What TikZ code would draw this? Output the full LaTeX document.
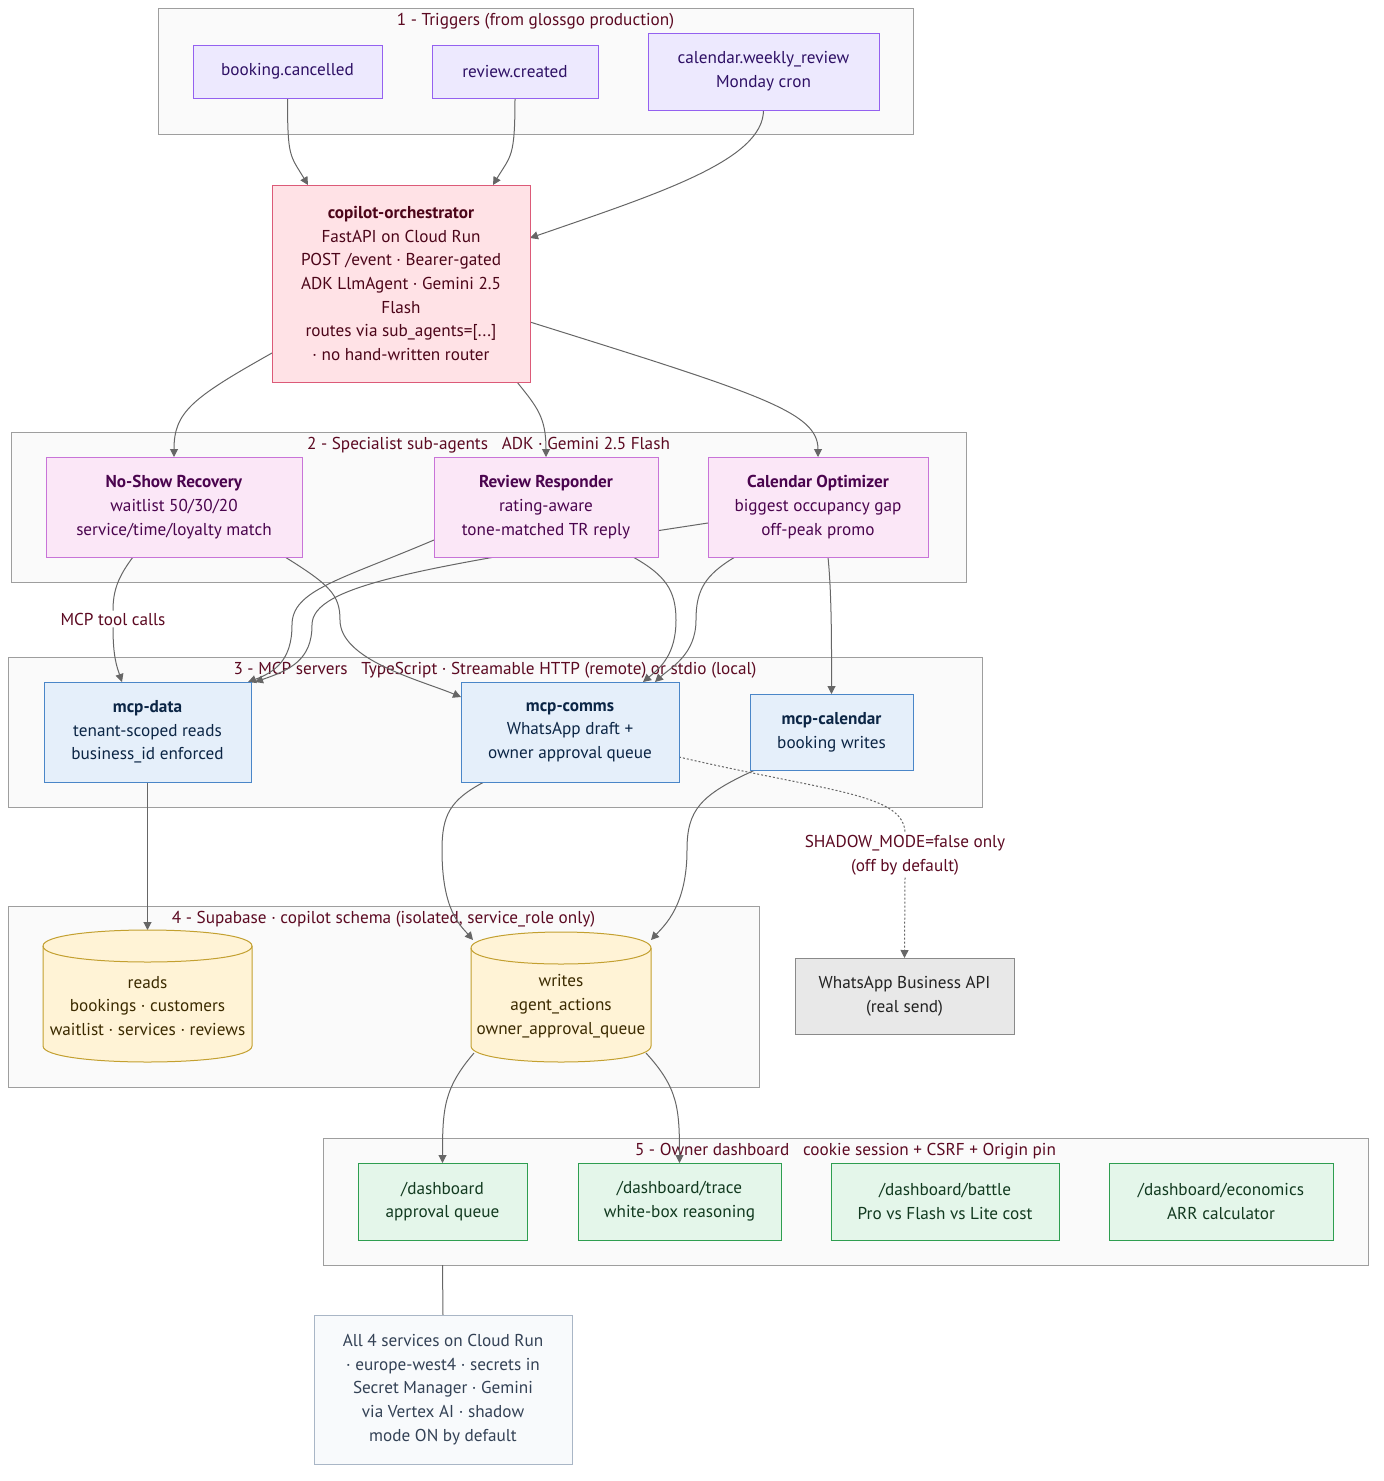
\documentclass[tikz,border=0pt]{standalone}
\usepackage{fontspec}
\setmainfont{PT Sans}
\usepackage{xcolor}
\definecolor{trigfill}{HTML}{EDE9FE}
\definecolor{trigline}{HTML}{9461F0}
\definecolor{trigtext}{HTML}{2E1065}
\definecolor{orchfill}{HTML}{FFE2E6}
\definecolor{orchline}{HTML}{DC5A78}
\definecolor{orchtext}{HTML}{4C0519}
\definecolor{agentfill}{HTML}{FBE7F7}
\definecolor{agentline}{HTML}{C874D8}
\definecolor{agenttext}{HTML}{4A044E}
\definecolor{mcpfill}{HTML}{E5EFFA}
\definecolor{mcpline}{HTML}{4A86C8}
\definecolor{mcptext}{HTML}{0B2545}
\definecolor{dbfill}{HTML}{FFF3D6}
\definecolor{dbline}{HTML}{C3A030}
\definecolor{dbtext}{HTML}{3B2A00}
\definecolor{extfill}{HTML}{E8E8E8}
\definecolor{extline}{HTML}{8A8A8A}
\definecolor{exttext}{HTML}{222222}
\definecolor{pagefill}{HTML}{E4F6EA}
\definecolor{pageline}{HTML}{2E9E50}
\definecolor{pagetext}{HTML}{123A20}
\definecolor{notefill}{HTML}{F8FAFC}
\definecolor{noteline}{HTML}{A9B6C6}
\definecolor{notetext}{HTML}{334155}
\definecolor{clusterfill}{HTML}{FAFAFA}
\definecolor{clusterline}{HTML}{9E9E9E}
\definecolor{lblcol}{HTML}{5C0A22}
\definecolor{edgecol}{HTML}{666666}
\usepackage{tikz}
\usetikzlibrary{arrows.meta,calc}
\pgfdeclarelayer{boxes}
\pgfdeclarelayer{edges}
\pgfsetlayers{boxes,edges,main}

\begin{document}
\begin{tikzpicture}[x=1pt,y=-1pt,
    txt/.style={font=\fontsize{17.2}{23.7}\selectfont,align=center},
    box/.style={txt,draw,line width=1pt,outer sep=0pt,inner sep=4pt},
    trigger/.style={box,fill=trigfill,draw=trigline,text=trigtext},
    orchbox/.style={box,fill=orchfill,draw=orchline,text=orchtext},
    agent/.style={box,fill=agentfill,draw=agentline,text=agenttext},
    mcp/.style={box,fill=mcpfill,draw=mcpline,text=mcptext},
    dbnode/.style={outer sep=0pt,inner sep=0pt},
    dbshape/.style={fill=dbfill,draw=dbline,line width=1pt},
    dbtxt/.style={txt,text=dbtext},
    extbox/.style={box,fill=extfill,draw=extline,text=exttext},
    pagebox/.style={box,fill=pagefill,draw=pageline,text=pagetext},
    notebox/.style={box,fill=notefill,draw=noteline,text=notetext},
    cluster/.style={draw=clusterline,fill=clusterfill,line width=1pt,outer sep=0pt},
    clabel/.style={txt,text=lblcol,inner sep=1pt},
    elabel/.style={txt,text=lblcol,fill=white,inner sep=2pt},
    edge/.style={draw=edgecol,line width=1pt,-{Triangle[length=8pt,width=8pt]}},
    shadowedge/.style={draw=edgecol,line width=1pt,dash pattern=on 2pt off 2pt}]
  \useasboundingbox (0,0) rectangle (1384,1481);

  % subgraph frames
  \begin{pgfonlayer}{boxes}
    \node[cluster,minimum width=755pt,minimum height=126pt] (one) at (535.5,71) {};
    \node[clabel] at ($(one.north)+(0,13)$) {1 - Triggers (from glossgo production)};
    \node[cluster,minimum width=955pt,minimum height=150pt] (two) at (488.5,507) {};
    \node[clabel] at ($(two.north)+(0,13)$) {2 - Specialist sub-agents \ \ ADK · Gemini 2.5 Flash};
    \node[cluster,minimum width=974pt,minimum height=150pt] (three) at (495,732) {};
    \node[clabel] at ($(three.north)+(0,13)$) {3 - MCP servers \ \ TypeScript · Streamable HTTP (remote) or stdio (local)};
    \node[cluster,minimum width=751pt,minimum height=181pt] (four) at (383.5,996.5) {};
    \node[clabel] at ($(four.north)+(0,13)$) {4 - Supabase · copilot schema (isolated, service\_role only)};
    \node[cluster,minimum width=1045pt,minimum height=127pt] (five) at (845.5,1201.5) {};
    \node[clabel] at ($(five.north)+(0,13)$) {5 - Owner dashboard \ \ cookie session + CSRF + Origin pin};
  \end{pgfonlayer}

  % triggers
  \node[trigger,minimum width=189pt,minimum height=53pt] (cancelled) at (287.5,71.5) {booking.cancelled};
  \node[trigger,minimum width=166pt,minimum height=53pt] (created) at (515,71.5) {review.created};
  \node[trigger,minimum width=231pt,minimum height=77pt] (weekly) at (763.5,71.5) {calendar.weekly\_review\\Monday cron};

  % orchestrator
  \node[orchbox,minimum width=258pt,minimum height=197pt] (orch) at (401,283.5)
    {\textbf{copilot-orchestrator}\\FastAPI on Cloud Run\\POST /event · Bearer-gated\\ADK LlmAgent · Gemini 2.5\\Flash\\routes via sub\_agents=[...]\\ · no hand-written router};

  % sub-agents
  \node[agent,minimum width=256pt,minimum height=100pt] (noshow) at (174,507)
    {\textbf{No-Show Recovery}\\waitlist 50/30/20\\service/time/loyalty match};
  \node[agent,minimum width=224pt,minimum height=100pt] (responder) at (546,507)
    {\textbf{Review Responder}\\rating-aware\\tone-matched TR reply};
  \node[agent,minimum width=220pt,minimum height=100pt] (optimizer) at (818,507)
    {\textbf{Calendar Optimizer}\\biggest occupancy gap\\off-peak promo};

  % MCP servers
  \node[mcp,minimum width=207pt,minimum height=100pt] (mcpdata) at (147.5,732)
    {\textbf{mcp-data}\\tenant-scoped reads\\business\_id enforced};
  \node[mcp,minimum width=218pt,minimum height=100pt] (mcpcomms) at (570,732)
    {\textbf{mcp-comms}\\WhatsApp draft +\\owner approval queue};
  \node[mcp,minimum width=163pt,minimum height=76pt] (mcpcal) at (831.5,732)
    {\textbf{mcp-calendar}\\booking writes};

  % supabase tables
  \node[dbnode,minimum width=209pt,minimum height=132pt] (reads) at (147.5,996) {};
  \node[dbnode,minimum width=180pt,minimum height=130pt] (writes) at (561,997) {};
  \foreach \db in {reads,writes} {
    \path[dbshape] ([yshift=-16pt]\db.north west) -- ([yshift=16pt]\db.south west)
      .. controls ([yshift=-5.33pt]\db.south west) and ([yshift=-5.33pt]\db.south east) .. ([yshift=16pt]\db.south east)
      -- ([yshift=-16pt]\db.north east)
      .. controls ([yshift=5.33pt]\db.north east) and ([yshift=5.33pt]\db.north west) .. cycle;
    \draw[dbshape,fill=none] ([yshift=-16pt]\db.north west)
      .. controls ([yshift=-37.33pt]\db.north west) and ([yshift=-37.33pt]\db.north east) .. ([yshift=-16pt]\db.north east);
  }
  \node[dbtxt] at ([yshift=-10pt]reads.center) {reads\\bookings · customers\\waitlist · services · reviews};
  \node[dbtxt] at ([yshift=-9pt]writes.center) {writes\\agent\_actions\\owner\_approval\_queue};

  \node[extbox,minimum width=219pt,minimum height=76pt] (whatsapp) at (904.5,996) {WhatsApp Business API\\(real send)};

  % dashboard pages
  \node[pagebox,minimum width=169pt,minimum height=77pt] (approval) at (442.5,1201.5) {/dashboard\\approval queue};
  \node[pagebox,minimum width=203pt,minimum height=77pt] (trace) at (679.5,1201.5) {/dashboard/trace\\white-box reasoning};
  \node[pagebox,minimum width=228pt,minimum height=77pt] (battle) at (945,1201.5) {/dashboard/battle\\Pro vs Flash vs Lite cost};
  \node[pagebox,minimum width=224pt,minimum height=77pt] (economics) at (1221,1201.5) {/dashboard/economics\\ARR calculator};

  \node[notebox,minimum width=258pt,minimum height=149pt] (deploy) at (443,1389.5)
    {All 4 services on Cloud Run\\· europe-west4 · secrets in\\Secret Manager · Gemini\\via Vertex AI · shadow\\mode ON by default};

  % edge labels
  \node[elabel] (toolcalls) at (113,619) {MCP tool calls};
  \node[elabel] (shadow) at (905,855.5) {SHADOW\_MODE=false only\\(off by default)};

  % connectors
  \begin{pgfonlayer}{edges}
    \draw[edge] (cancelled.south) .. controls +(0,60) and +(-18,-30) .. ($(orch.north west)+(36,0)$);
    \draw[edge] (created.south) .. controls +(0,60) and +(18,-30) .. ($(orch.north east)+(-37,0)$);
    \draw[edge] (weekly.south) .. controls +(0,50) and +(130,-45) .. ($(orch.east)+(0,-45.5)$);

    \draw[edge] ($(orch.south west)+(0,-29)$) .. controls +(-80,45) and +(0,-45) .. (noshow.north);
    \draw[edge] ($(orch.south east)+(-13,0)$) .. controls +(20,25) and +(0,-40) .. (responder.north);
    \draw[edge] ($(orch.east)+(0,38.5)$) .. controls +(230,72) and +(0,-45) .. (optimizer.north);

    \draw[edgecol,line width=1pt] ($(noshow.south)+(-41,0)$) .. controls +(-15,20) and +(0,-20) .. (toolcalls.north);
    \draw[edge] (toolcalls.south) .. controls +(0,30) and +(-5,-15) .. ($(mcpdata.north)+(-25.5,0)$);
    \draw[edge] ($(noshow.south east)+(-17,0)$) .. controls (330,585) and (340,595) .. (340,620)
      .. controls (340,660) and (420,680) .. ($(mcpcomms.west)+(0,-35)$);
    \draw[edge] ($(responder.west)+(0,33)$) .. controls (340,580) and (292,590) .. (292,625)
      .. controls (292,660) and (275,672) .. ($(mcpdata.north east)+(-3,0)$);
    \draw[edge] ($(optimizer.west)+(0,16)$) .. controls (420,567) and (312,585) .. (312,625)
      .. controls (312,660) and (290,670) .. ($(mcpdata.north east)+(4,0)$);
    \draw[edge] ($(responder.south east)+(-25,0)$) .. controls (665,575) and (676,590) .. (676,620)
      .. controls (676,655) and (660,668) .. ($(mcpcomms.north east)+(-36,0)$);
    \draw[edge] ($(optimizer.south west)+(27,0)$) .. controls (705,575) and (696,590) .. (696,620)
      .. controls (696,655) and (670,668) .. ($(mcpcomms.north east)+(-24,0)$);
    \draw[edge] ($(optimizer.south)+(10,0)$) .. controls +(4,40) and +(0,-40) .. (mcpcal.north);

    \draw[shadowedge] ($(mcpcomms.east)+(0,25)$) .. controls +(150,35) and +(0,-40) .. (shadow.north);
    \draw[shadowedge,-{Triangle[length=8pt,width=8pt]}] (shadow.south) -- (whatsapp.north);

    \draw[edge] (mcpdata.south) -- (reads.north);
    \draw[edge] ($(mcpcomms.south west)+(23,0)$) .. controls (450,800) and (442,815) .. (442,850)
      .. controls (442,910) and (460,925) .. ($(writes.north west)+(2,8)$);
    \draw[edge] ($(mcpcal.south west)+(5,0)$) .. controls (700,795) and (687,810) .. (687,850)
      .. controls (687,905) and (665,925) .. ($(writes.north east)+(0,8)$);

    \draw[edge] ($(writes.south west)+(3,-9)$) .. controls +(-30,35) and +(0,-55) .. (approval.north);
    \draw[edge] ($(writes.south east)+(-5,-9)$) .. controls +(32,35) and +(0,-55) .. (trace.north);

    \draw[edgecol,line width=1pt] (approval |- five.south) -- (deploy.north);
  \end{pgfonlayer}
\end{tikzpicture}
\end{document}
